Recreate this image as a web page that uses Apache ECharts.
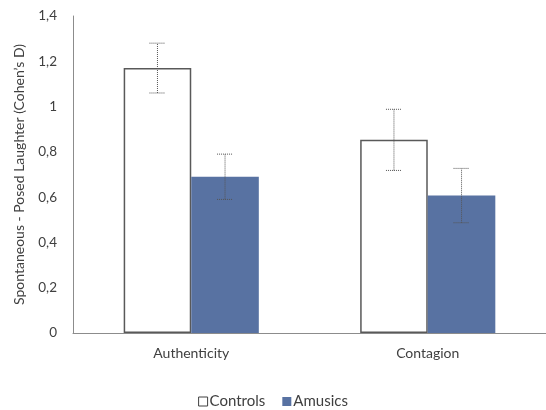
<!DOCTYPE html>
<html>
<head>
<meta charset="utf-8">
<script src="https://cdn.jsdelivr.net/npm/echarts@6/dist/echarts.min.js"></script>
<style>html,body{margin:0;padding:0;background:#fff}#c{width:546px;height:410px}</style>
</head>
<body>
<div id="c"></div>
<script>
const categories = ['Authenticity', 'Contagion'];
const seriesNames = ['Controls', 'Amusics'];
const controls = [1.17, 0.853];
const amusics = [0.69, 0.607];
const controlsErr = [0.11, 0.135];
const amusicsErr = [0.10, 0.12];
const yTicks = [0, 0.2, 0.4, 0.6, 0.8, 1, 1.2, 1.4];

const chart = echarts.init(document.getElementById('c'));
const font = 'Lato, "Open Sans", sans-serif';

function errData(vals, errs) {
  return vals.map((v, i) => [i, v - errs[i], v + errs[i]]);
}
function errSeries(vals, errs, side) {
  return {
    type: 'custom',
    z: 10,
    silent: true,
    data: errData(vals, errs),
    renderItem: function (params, api) {
      const c = api.value(0);
      const lo = api.coord([c, api.value(1)]);
      const hi = api.coord([c, api.value(2)]);
      const band = api.size([1, 0])[0];
      const bw = band * (136 / 238) / 2;
      const x = lo[0] + side * bw / 2;
      const cap = 8;
      const st = { stroke: '#555555', lineWidth: 1, lineDash: [1, 1] };
      return {
        type: 'group',
        children: [
          { type: 'line', shape: { x1: x, y1: lo[1], x2: x, y2: hi[1] }, style: st },
          { type: 'line', shape: { x1: x - cap, y1: hi[1], x2: x + cap, y2: hi[1] }, style: st },
          { type: 'line', shape: { x1: x - cap, y1: lo[1], x2: x + cap, y2: lo[1] }, style: st }
        ]
      };
    }
  };
}

chart.setOption({
  animation: false,
  backgroundColor: '#fff',
  grid: { left: 73, top: 16, width: 476, bottom: 77, containLabel: false },
  legend: {
    data: [
      { name: seriesNames[0], itemStyle: { color: '#fff', borderColor: '#404040', borderWidth: 1 } },
      { name: seriesNames[1], itemStyle: { color: '#5872a2' } }
    ],
    top: 394,
    left: 'center',
    icon: 'rect',
    itemWidth: 9,
    itemHeight: 9,
    itemGap: 17,
    padding: 0,
    textStyle: { fontFamily: font, fontSize: 15, color: '#404040', padding: [0, 0, 0, -3] }
  },
  xAxis: {
    type: 'category',
    data: categories,
    axisLine: { lineStyle: { color: '#8c8c8c', width: 1 } },
    axisTick: { show: false },
    axisLabel: { fontFamily: font, fontSize: 14, color: '#404040', margin: 13 }
  },
  yAxis: {
    type: 'value',
    min: 0,
    max: 1.4,
    interval: 0.2,
    name: 'Spontaneous - Posed Laughter (Cohen\u2019s D)',
    nameLocation: 'middle',
    nameGap: 47,
    nameTextStyle: { fontFamily: font, fontSize: 14, color: '#404040' },
    axisLine: { show: true, lineStyle: { color: '#8c8c8c', width: 1 } },
    axisTick: { show: false },
    splitLine: { show: false },
    axisLabel: {
      fontFamily: font, fontSize: 13.5, color: '#404040', margin: 16,
      formatter: function (v) {
        const t = yTicks.find(x => Math.abs(x - v) < 1e-9);
        return String(Math.round((t !== undefined ? t : v) * 10) / 10).replace('.', ',');
      }
    }
  },
  series: [
    {
      name: seriesNames[0], type: 'bar', data: controls,
      barGap: '0%', barCategoryGap: '42.86%',
      itemStyle: { color: '#fff', borderColor: '#595959', borderWidth: 1.5 }
    },
    {
      name: seriesNames[1], type: 'bar', data: amusics,
      itemStyle: { color: '#5872a2' }
    },
    errSeries(controls, controlsErr, -1),
    errSeries(amusics, amusicsErr, 1)
  ]
});
</script>
</body>
</html>
